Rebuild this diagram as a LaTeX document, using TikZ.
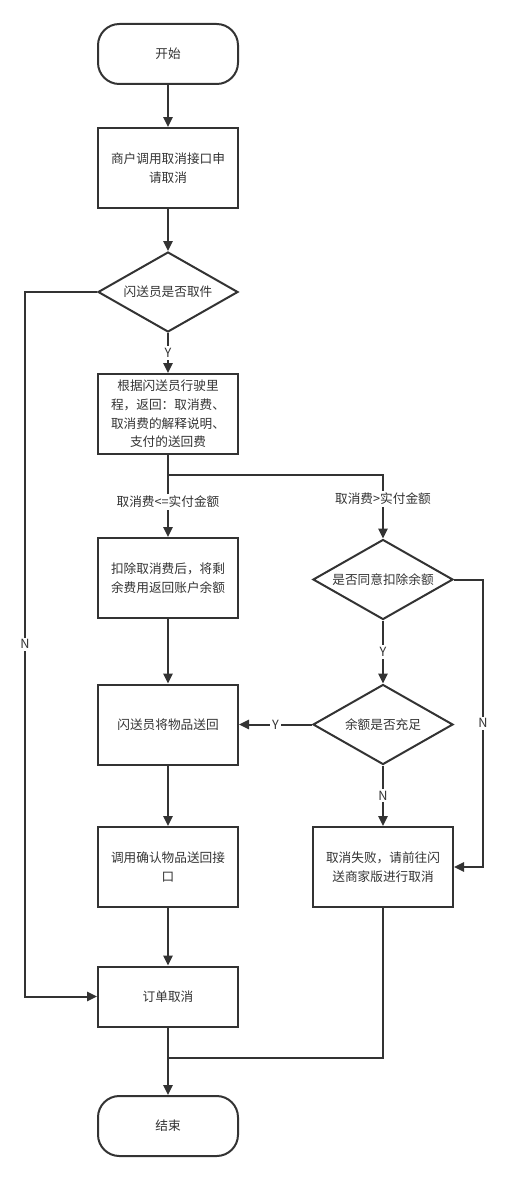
\documentclass[tikz,border=0pt]{standalone}
\usepackage{fontspec}
\setmainfont{Noto Sans CJK SC}
\usetikzlibrary{arrows.meta,shapes.geometric}
\definecolor{ink}{HTML}{333333}

\tikzset{every picture/.style={line width=0.75pt}}

\begin{document}
\begin{tikzpicture}[x=0.75pt,y=0.75pt,yscale=-1,xscale=1,
	line width=1.5pt, draw=ink, text=ink,
	font=\fontsize{9.5pt}{14pt}\selectfont,
	term/.style={draw=ink, rounded corners=16pt, minimum width=105pt, minimum height=45pt, align=center},
	box/.style={draw=ink, rectangle, minimum width=105pt, minimum height=60pt, align=center},
	dec/.style={draw=ink, diamond, aspect=1.75, inner sep=0pt, minimum width=105pt, minimum height=60pt, align=center},
	lbl/.style={fill=white, inner sep=1.5pt, text=ink},
	arr/.style={draw=ink, -{Triangle[length=7.5pt,width=7pt]}}]
	\useasboundingbox (0,0) rectangle (507,1181);
	
	% Terminal nodes
	\node [term] (start) at (168,54) {开始};
	\node [term] (stop) at (168,1126) {结束};
	% Process nodes
	\node [box] (apply) at (168,168) {商户调用取消接口申\\请取消};
	\node [box] (fee) at (168,414) {根据闪送员行驶里\\程，返回：取消费、\\取消费的解释说明、\\支付的送回费};
	\node [box] (refund) at (168,578) {扣除取消费后，将剩\\余费用返回账户余额};
	\node [box] (back) at (168,724.5) {闪送员将物品送回};
	\node [box] (confirm) at (168,867) {调用确认物品送回接\\口};
	\node [box, minimum height=45pt] (cancel) at (168,996.5) {订单取消};
	\node [box] (fail) at (383,867) {取消失败，请前往闪\\送商家版进行取消};
	% Decision nodes
	\node [dec] (pickup) at (168,292) {闪送员是否取件};
	\node [dec] (agree) at (383,579.5) {是否同意扣除余额};
	\node [dec] (enough) at (383,724.5) {余额是否充足};
	
	% Corner points
	\coordinate (split) at (168,475);
	\coordinate (merge) at (168,1058);
	\coordinate (pickN) at (25,292);
	\coordinate (agreeN) at (483,579.5);
	
	% Connectors
	\draw [arr] (start) -- (apply);
	\draw [arr] (apply) -- (pickup);
	\draw [arr] (pickup) -- node [lbl] {Y} (fee);
	\draw [arr] (pickup.west) -- (pickN) |- node [lbl, pos=0.25] {N} (cancel.west);
	\draw [arr] (fee) -- node [lbl, pos=0.57] {取消费<=实付金额} (refund);
	\draw [arr] (split) -| node [lbl, pos=0.69] {取消费>实付金额} (agree);
	\draw [arr] (agree) -- node [lbl] {Y} (enough);
	\draw [arr] (agree.east) -- (agreeN) |- node [lbl, pos=0.25] {N} (fail.east);
	\draw [arr] (enough) -- node [lbl] {Y} (back);
	\draw [arr] (enough) -- node [lbl] {N} (fail);
	\draw [arr] (refund) -- (back);
	\draw [arr] (back) -- (confirm);
	\draw [arr] (confirm) -- (cancel);
	\draw [arr] (cancel) -- (stop);
	\draw (fail.south) |- (merge);
\end{tikzpicture}
\end{document}
